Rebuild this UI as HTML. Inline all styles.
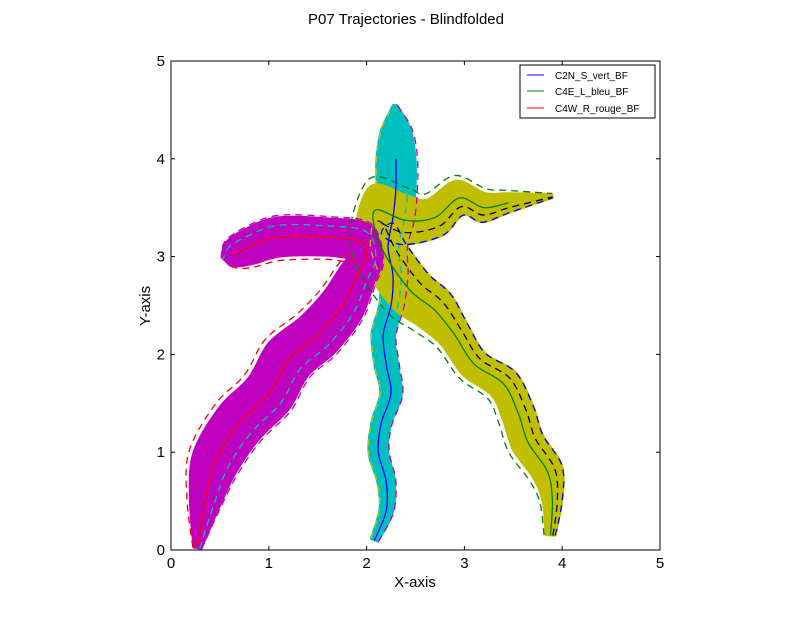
<!DOCTYPE html>
<html><head><meta charset="utf-8"><style>
body{margin:0;background:#fff}
svg text{font-family:"Liberation Sans",sans-serif}
</style></head><body>
<svg id="chart" width="812" height="612" xmlns="http://www.w3.org/2000/svg">
<rect width="812" height="612" fill="#fff"/>
<text x="406" y="24" font-size="15" text-anchor="middle">P07 Trajectories - Blindfolded</text>
<g id="plot"></g>
<g id="axes"></g>
<text x="415" y="587" font-size="15" text-anchor="middle">X-axis</text>
<text x="150" y="306" font-size="15" text-anchor="middle" transform="rotate(-90 150 306)">Y-axis</text>
<g>
<rect x="520" y="65" width="135" height="53" fill="#fff" stroke="#000" stroke-width="1"/>
<g><line x1="527" y1="75" x2="544" y2="75" stroke="#0000ff"/><text x="555" y="79" font-size="10">C2N_S_vert_BF</text></g>
<g><line x1="527" y1="91" x2="544" y2="91" stroke="#008000"/><text x="555" y="95" font-size="10">C4E_L_bleu_BF</text></g>
<g><line x1="527" y1="108" x2="544" y2="108" stroke="#ff0000"/><text x="555" y="112" font-size="10">C4W_R_rouge_BF</text></g>
</g>
</svg>
<script>
// C2N_S_vert_BF mean trajectory
const c2nX=[2.08,2.2,2.2,2.12,2.15,2.25,2.2,2.17,2.25,2.27,2.22,2.27,2.3,2.3,2.3,2.29];
const c2nY=[0.1,0.4,0.7,1.0,1.3,1.6,1.9,2.2,2.5,2.8,3.1,3.4,3.7,4.0,4.3,4.55];
const c2nW=[0.04,0.07,0.09,0.1,0.1,0.11,0.12,0.12,0.12,0.14,0.18,0.2,0.2,0.2,0.15,0.02];
// C4E_L_bleu_BF mean trajectory
const c4eX=[3.88,3.9,3.85,3.65,3.55,3.4,3.1,2.9,2.7,2.45,2.2,2.08,2.1,2.4,2.7,2.95,3.2,3.45,3.9];
const c4eY=[0.15,0.5,0.8,1.1,1.4,1.7,1.9,2.2,2.45,2.65,3.0,3.3,3.48,3.37,3.4,3.6,3.5,3.55,3.62];
const c4eW=[0.05,0.1,0.16,0.17,0.17,0.17,0.16,0.17,0.23,0.25,0.24,0.2,0.25,0.25,0.2,0.18,0.15,0.1,0.02];
// C4W_R_rouge_BF mean trajectory
const c4wX=[0.27,0.35,0.45,0.7,1.0,1.2,1.5,1.75,1.9,2.0,1.95,1.6,1.1,0.8,0.63,0.56];
const c4wY=[0.02,0.5,0.9,1.3,1.6,1.95,2.2,2.5,2.8,3.0,3.15,3.2,3.2,3.1,3.02,2.95];
const c4wW=[0.04,0.16,0.24,0.26,0.26,0.26,0.25,0.23,0.19,0.16,0.19,0.19,0.2,0.18,0.14,0.06];
const xTicks=[0,1,2,3,4,5];
const yTicks=[0,1,2,3,4,5];
const X0=171,Y0=550,S=97.8;
function sx(v){return X0+v*S}
function sy(v){return Y0-v*S}
const NS='http://www.w3.org/2000/svg';
const plot=document.getElementById('plot');
const axes=document.getElementById('axes');
function mk(t,a,p){const e=document.createElementNS(NS,t);for(const k in a)e.setAttribute(k,a[k]);(p||plot).appendChild(e);return e}
function pts(xs,ys){return xs.map((x,i)=>[sx(x),sy(ys[i])])}
function normals(P){return P.map((p,i)=>{const a=P[Math.max(0,i-1)],b=P[Math.min(P.length-1,i+1)];let dx=b[0]-a[0],dy=b[1]-a[1];const L=Math.hypot(dx,dy)||1;return [-dy/L,dx/L]})}
function smooth(P){if(P.length<3)return 'M'+P.map(p=>p.join(',')).join('L');let d='M'+P[0][0].toFixed(1)+','+P[0][1].toFixed(1);for(let i=0;i<P.length-1;i++){const p0=P[Math.max(0,i-1)],p1=P[i],p2=P[i+1],p3=P[Math.min(P.length-1,i+2)];const c1=[p1[0]+(p2[0]-p0[0])/6,p1[1]+(p2[1]-p0[1])/6],c2=[p2[0]-(p3[0]-p1[0])/6,p2[1]-(p3[1]-p1[1])/6];d+='C'+c1.map(v=>v.toFixed(1))+' '+c2.map(v=>v.toFixed(1))+' '+p2.map(v=>v.toFixed(1))}return d}
function offset(P,N,ws,k){return P.map((p,i)=>[p[0]+N[i][0]*ws[i]*S*k,p[1]+N[i][1]*ws[i]*S*k])}
function band(xs,ys,ws,col,name){const P=pts(xs,ys),N=normals(P);const L=offset(P,N,ws,1),R=offset(P,N,ws,-1).reverse();
 const e=mk('path',{d:smooth(L)+smooth(R).replace('M','L')+'Z',fill:col,stroke:col,'stroke-width':2,'stroke-linejoin':'round'});
 
 }
function dashed(xs,ys,ws,k,col,name){const P=pts(xs,ys),N=normals(P);const e=mk('path',{d:smooth(offset(P,N,ws,k)),fill:'none',stroke:col,'stroke-width':1.3,'stroke-dasharray':'7,5'});
 
 }
function mean(xs,ys,col,name){const e=mk('path',{d:smooth(pts(xs,ys)),fill:'none',stroke:col,'stroke-width':1.3});
 
 }
band(c2nX,c2nY,c2nW,'#00bfbf','c2n-band');
band(c4eX,c4eY,c4eW,'#bfbf00','c4e-band');
band(c4wX,c4wY,c4wW,'#bf00bf','c4w-band');
dashed(c2nX,c2nY,c2nW,1.1,'#bf00bf','c2n-trial-1');
dashed(c2nX,c2nY,c2nW,-1.0,'#bfbf00','c2n-trial-2');
dashed(c2nX,c2nY,c2nW,0.6,'#00bfbf','c2n-trial-3');
dashed(c4eX,c4eY,c4eW,1.0,'#0000ff','c4e-trial-1');
dashed(c4eX,c4eY,c4eW,0.5,'#000000','c4e-trial-2');
dashed(c4eX,c4eY,c4eW,-1.3,'#008000','c4e-trial-3');
dashed(c4wX,c4wY,c4wW,-1.2,'#ff0000','c4w-trial-1');
dashed(c4wX,c4wY,c4wW,0.6,'#00bfbf','c4w-trial-2');
dashed(c4wX,c4wY,c4wW,1.1,'#bf00bf','c4w-trial-3');
mean(c2nX.slice(0,-2),c2nY.slice(0,-2),'#0000ff','c2n-mean-line');
mean(c4eX.slice(0,-1),c4eY.slice(0,-1),'#008000','c4e-mean-line');
mean(c4wX.slice(0,-1),c4wY.slice(0,-1),'#ff0000','c4w-mean-line');
// axes
const fr=mk('rect',{x:sx(0),y:sy(5),width:S*5,height:S*5,fill:'none',stroke:'#000','stroke-width':1},axes);


xTicks.forEach(t=>{mk('line',{x1:sx(t),x2:sx(t),y1:sy(0),y2:sy(0)-4,stroke:'#000'},axes);mk('line',{x1:sx(t),x2:sx(t),y1:sy(5),y2:sy(5)+4,stroke:'#000'},axes);
 const e=mk('text',{x:sx(t),y:sy(0)+18,'font-size':15,'text-anchor':'middle'},axes);e.textContent=t;
 
 });
yTicks.forEach(t=>{mk('line',{x1:sx(0),x2:sx(0)+4,y1:sy(t),y2:sy(t),stroke:'#000'},axes);mk('line',{x1:sx(5),x2:sx(5)-4,y1:sy(t),y2:sy(t),stroke:'#000'},axes);
 const e=mk('text',{x:sx(0)-6,y:sy(t)+5,'font-size':15,'text-anchor':'end'},axes);e.textContent=t;
 
 });
</script>
</body></html>
